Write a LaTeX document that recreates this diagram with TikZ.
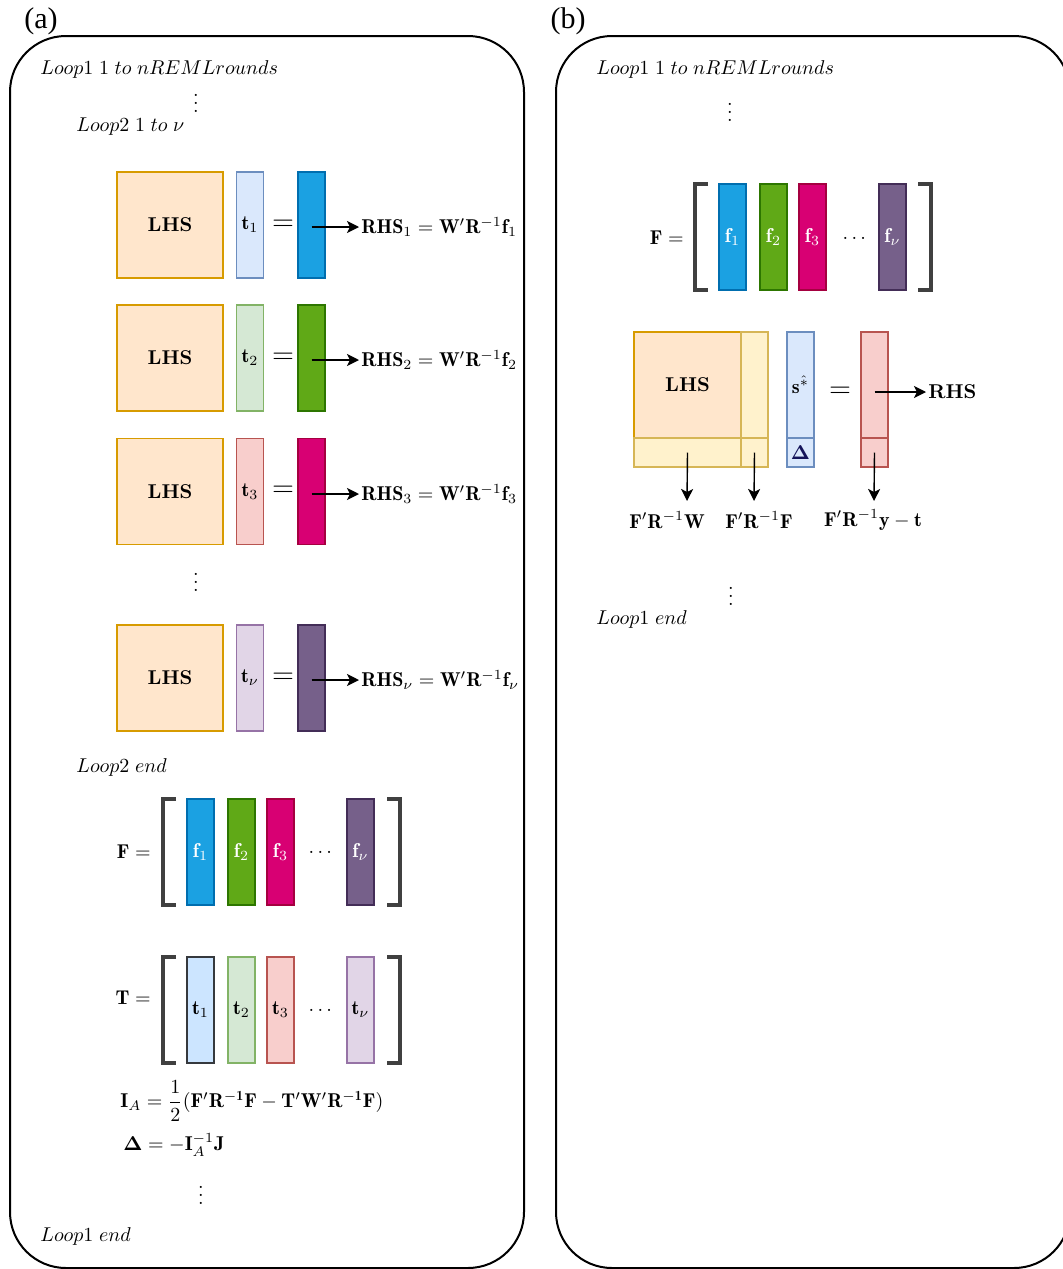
\documentclass[tikz,border=0pt]{standalone}
\usepackage{amsmath}
\usepackage{fontspec}
\newfontfamily\titlefont{Liberation Serif}
\usetikzlibrary{arrows.meta}
\definecolor{lhsF}{HTML}{FFE6CC}\definecolor{lhsD}{HTML}{D79B00}
\definecolor{blF}{HTML}{DAE8FC}\definecolor{blD}{HTML}{6C8EBF}
\definecolor{grF}{HTML}{D5E8D4}\definecolor{grD}{HTML}{82B366}
\definecolor{rdF}{HTML}{F8CECC}\definecolor{rdD}{HTML}{B85450}
\definecolor{puF}{HTML}{E1D5E7}\definecolor{puD}{HTML}{9673A6}
\definecolor{yeF}{HTML}{FFF2CC}\definecolor{yeD}{HTML}{D6B656}
\definecolor{f1F}{HTML}{1BA1E2}\definecolor{f1D}{HTML}{006EAF}
\definecolor{f2F}{HTML}{60A917}\definecolor{f2D}{HTML}{2D7600}
\definecolor{f3F}{HTML}{D80073}\definecolor{f3D}{HTML}{A50040}
\definecolor{fnF}{HTML}{76608A}\definecolor{fnD}{HTML}{432D57}
\definecolor{t1F}{HTML}{CCE5FF}\definecolor{t1D}{HTML}{36393D}
\definecolor{brkC}{HTML}{404040}
\definecolor{navyD}{HTML}{14145A}
\begin{document}
\begin{tikzpicture}[x=0.5pt,y=-0.5pt,
  frame/.style={draw=black,line width=1pt,rounded corners=28pt},
  blk/.style={draw,line width=0.6pt,inner sep=0pt,minimum width=13.5pt,minimum height=53pt},
  lhs/.style={blk,fill=lhsF,draw=lhsD,minimum width=53pt,font=\bfseries},
  tb/.style={blk,fill=blF,draw=blD},
  tg/.style={blk,fill=grF,draw=grD},
  tr/.style={blk,fill=rdF,draw=rdD},
  tp/.style={blk,fill=puF,draw=puD},
  tbb/.style={blk,fill=t1F,draw=t1D},
  ye/.style={blk,fill=yeF,draw=yeD},
  fa/.style={blk,fill=f1F,draw=f1D,text=white},
  fb/.style={blk,fill=f2F,draw=f2D,text=white},
  fc/.style={blk,fill=f3F,draw=f3D,text=white},
  fd/.style={blk,fill=fnF,draw=fnD,text=white},
  eqs/.style={inner sep=0pt,font=\fontsize{15}{17}\selectfont},
  lbl/.style={inner sep=0pt,anchor=west},
  dts/.style={inner sep=0pt},
  arr/.style={-{Stealth[length=6pt,width=6pt,inset=1.5pt]},line width=0.7pt},
  brk/.style={draw=brkC,line width=2pt},
  ttl/.style={inner sep=0pt,font=\titlefont\fontsize{15}{18}\selectfont}]
\useasboundingbox (0,0) rectangle (1063,1269);
\clip (0,0) rectangle (1063,1269);

% ---------------- panel (a)
\node[ttl] (ta) at (41,21) {(a)};
\draw[frame] (10,36) rectangle (524,1268);
\node[lbl] (l1a) at (40,69) {$Loop1\;1\;to\;nREMLrounds$};
\node[dts] (vd1a) at (196,97) {$\vdots$};
\node[lbl] (l2a) at (76,127) {$Loop2\;1\;to\;\nu$};

% row 1
\node[lhs] (lhs1) at (170,225) {LHS};
\node[tb] (t1) at (250,225) {$\mathbf{t}_1$};
\node[eqs] (eq1) at (283,225) {$=$};
\node[fa] (fr1) at (311.5,225) {};
\node[lbl] (rhs1) at (361,227) {$\mathbf{RHS}_1=\mathbf{W}'\mathbf{R}^{-1}\mathbf{f}_1$};
\draw[arr] (fr1.center |- rhs1.west) -- ([xshift=-1pt]rhs1.west);
% row 2
\node[lhs] (lhs2) at (170,358) {LHS};
\node[tg] (t2) at (250,358) {$\mathbf{t}_2$};
\node[eqs] (eq2) at (283,358) {$=$};
\node[fb] (fr2) at (311.5,358) {};
\node[lbl] (rhs2) at (361,360) {$\mathbf{RHS}_2=\mathbf{W}'\mathbf{R}^{-1}\mathbf{f}_2$};
\draw[arr] (fr2.center |- rhs2.west) -- ([xshift=-1pt]rhs2.west);
% row 3
\node[lhs] (lhs3) at (170,491.5) {LHS};
\node[tr] (t3) at (250,491.5) {$\mathbf{t}_3$};
\node[eqs] (eq3) at (283,491.5) {$=$};
\node[fc] (fr3) at (311.5,491.5) {};
\node[lbl] (rhs3) at (361,494) {$\mathbf{RHS}_3=\mathbf{W}'\mathbf{R}^{-1}\mathbf{f}_3$};
\draw[arr] (fr3.center |- rhs3.west) -- ([xshift=-1pt]rhs3.west);
\node[dts] (vd2a) at (196,576) {$\vdots$};
% row nu
\node[lhs] (lhsn) at (170,678) {LHS};
\node[tp] (tn) at (250,678) {$\mathbf{t}_\nu$};
\node[eqs] (eqn) at (283,678) {$=$};
\node[fd] (frn) at (311.5,678) {};
\node[lbl] (rhsn) at (361,680) {$\mathbf{RHS}_\nu=\mathbf{W}'\mathbf{R}^{-1}\mathbf{f}_\nu$};
\draw[arr] (frn.center |- rhsn.west) -- ([xshift=-1pt]rhsn.west);
\node[lbl] (l2ea) at (76,767) {$Loop2\;end$};

% F matrix (a)
\node[inner sep=0pt,anchor=east] (Fa) at (151,852) {$\mathbf{F}=$};
\draw[brk] (176,799) -| (163,905) -- (176,905);
\node[fa] (Fa1) at (200.5,852) {$\mathbf{f}_1$};
\node[fb] (Fa2) at (241.5,852) {$\mathbf{f}_2$};
\node[fc] (Fa3) at (280.5,852) {$\mathbf{f}_3$};
\node[dts] (Fad) at (322,852) {$\dots$};
\node[fd] (Fan) at (360.5,852) {$\mathbf{f}_\nu$};
\draw[brk] (387,799) -| (400,905) -- (387,905);

% T matrix (a)
\node[inner sep=0pt,anchor=east] (Ta) at (151,998) {$\mathbf{T}=$};
\draw[brk] (176,957) -| (163,1063) -- (176,1063);
\node[tbb] (Ta1) at (200.5,1010) {$\mathbf{t}_1$};
\node[tg] (Ta2) at (241.5,1010) {$\mathbf{t}_2$};
\node[tr] (Ta3) at (280.5,1010) {$\mathbf{t}_3$};
\node[dts] (Tad) at (322,1010) {$\dots$};
\node[tp] (Tan) at (360.5,1010) {$\mathbf{t}_\nu$};
\draw[brk] (387,957) -| (400,1063) -- (387,1063);

\node[lbl] (IA) at (120,1101) {$\mathbf{I}_A=\dfrac{1}{2}(\mathbf{F}'\mathbf{R^{-1}}\mathbf{F}-\mathbf{T}'\mathbf{W}'\mathbf{R^{-1}}\mathbf{F})$};
\node[lbl] (DL) at (123,1145) {$\boldsymbol{\Delta}=-\mathbf{I}_A^{-1}\mathbf{J}$};
\node[dts] (vd3a) at (201,1189) {$\vdots$};
\node[lbl] (l1ea) at (40,1236) {$Loop1\;end$};

% ---------------- panel (b)
\node[ttl] (tb) at (568,21) {(b)};
\draw[frame] (556,36) rectangle (1070,1268);
\node[lbl] (l1b) at (596,69) {$Loop1\;1\;to\;nREMLrounds$};
\node[dts] (vd1b) at (730,106) {$\vdots$};

\node[inner sep=0pt,anchor=east] (Fb) at (684,238) {$\mathbf{F}=$};
\draw[brk] (708,184) -| (695,290) -- (708,290);
\node[fa] (Fb1) at (732.5,237) {$\mathbf{f}_1$};
\node[fb] (Fb2) at (773.5,237) {$\mathbf{f}_2$};
\node[fc] (Fb3) at (812.5,237) {$\mathbf{f}_3$};
\node[dts] (Fbd) at (856,238) {$\dots$};
\node[fd] (Fbn) at (892.5,237) {$\mathbf{f}_\nu$};
\draw[brk] (918,184) -| (931,290) -- (918,290);

\node[lhs,minimum width=53.5pt] (blhs) at (687.5,385) {LHS};
\node[ye] (bstripR) at (754.5,385) {};
\node[ye,minimum width=53.5pt,minimum height=14.5pt] (bstripB) at (687.5,452.5) {};
\node[ye,minimum height=14.5pt] (bcorner) at (754.5,452.5) {};
\node[tb] (bs) at (800.5,385) {$\mathbf{s}^{\hat{*}}$};
\node[tb,minimum height=14.5pt] (bdelta) at (800.5,452.5) {$\color{navyD}\boldsymbol{\Delta}$};
\node[eqs] (beq) at (840,392) {$=$};
\node[tr] (brhs) at (874.5,385) {};
\node[tr,minimum height=14.5pt] (brhsB) at (874.5,452.5) {};
\node[lbl] (brhsl) at (928,392) {\textbf{RHS}};
\draw[arr] (brhs.center |- brhsl.west) -- ([xshift=-1pt]brhsl.west);

\node[inner sep=0pt] (lw) at (667,520) {$\mathbf{F}'\mathbf{R}^{-1}\mathbf{W}$};
\node[inner sep=0pt] (lf) at (759,520) {$\mathbf{F}'\mathbf{R}^{-1}\mathbf{F}$};
\node[inner sep=0pt] (ly) at (873,520) {$\mathbf{F}'\mathbf{R}^{-1}\mathbf{y}-\mathbf{t}$};
\coordinate (aw) at (687,501);
\coordinate (af) at (754,501);
\coordinate (ay) at (874,501);
\draw[arr] (bstripB.center) -- (aw);
\draw[arr] (bcorner.center) -- (af);
\draw[arr] (brhsB.center) -- (ay);

\node[dts] (vd2b) at (731,590) {$\vdots$};
\node[lbl] (l1eb) at (596,619) {$Loop1\;end$};
\end{tikzpicture}
\end{document}
